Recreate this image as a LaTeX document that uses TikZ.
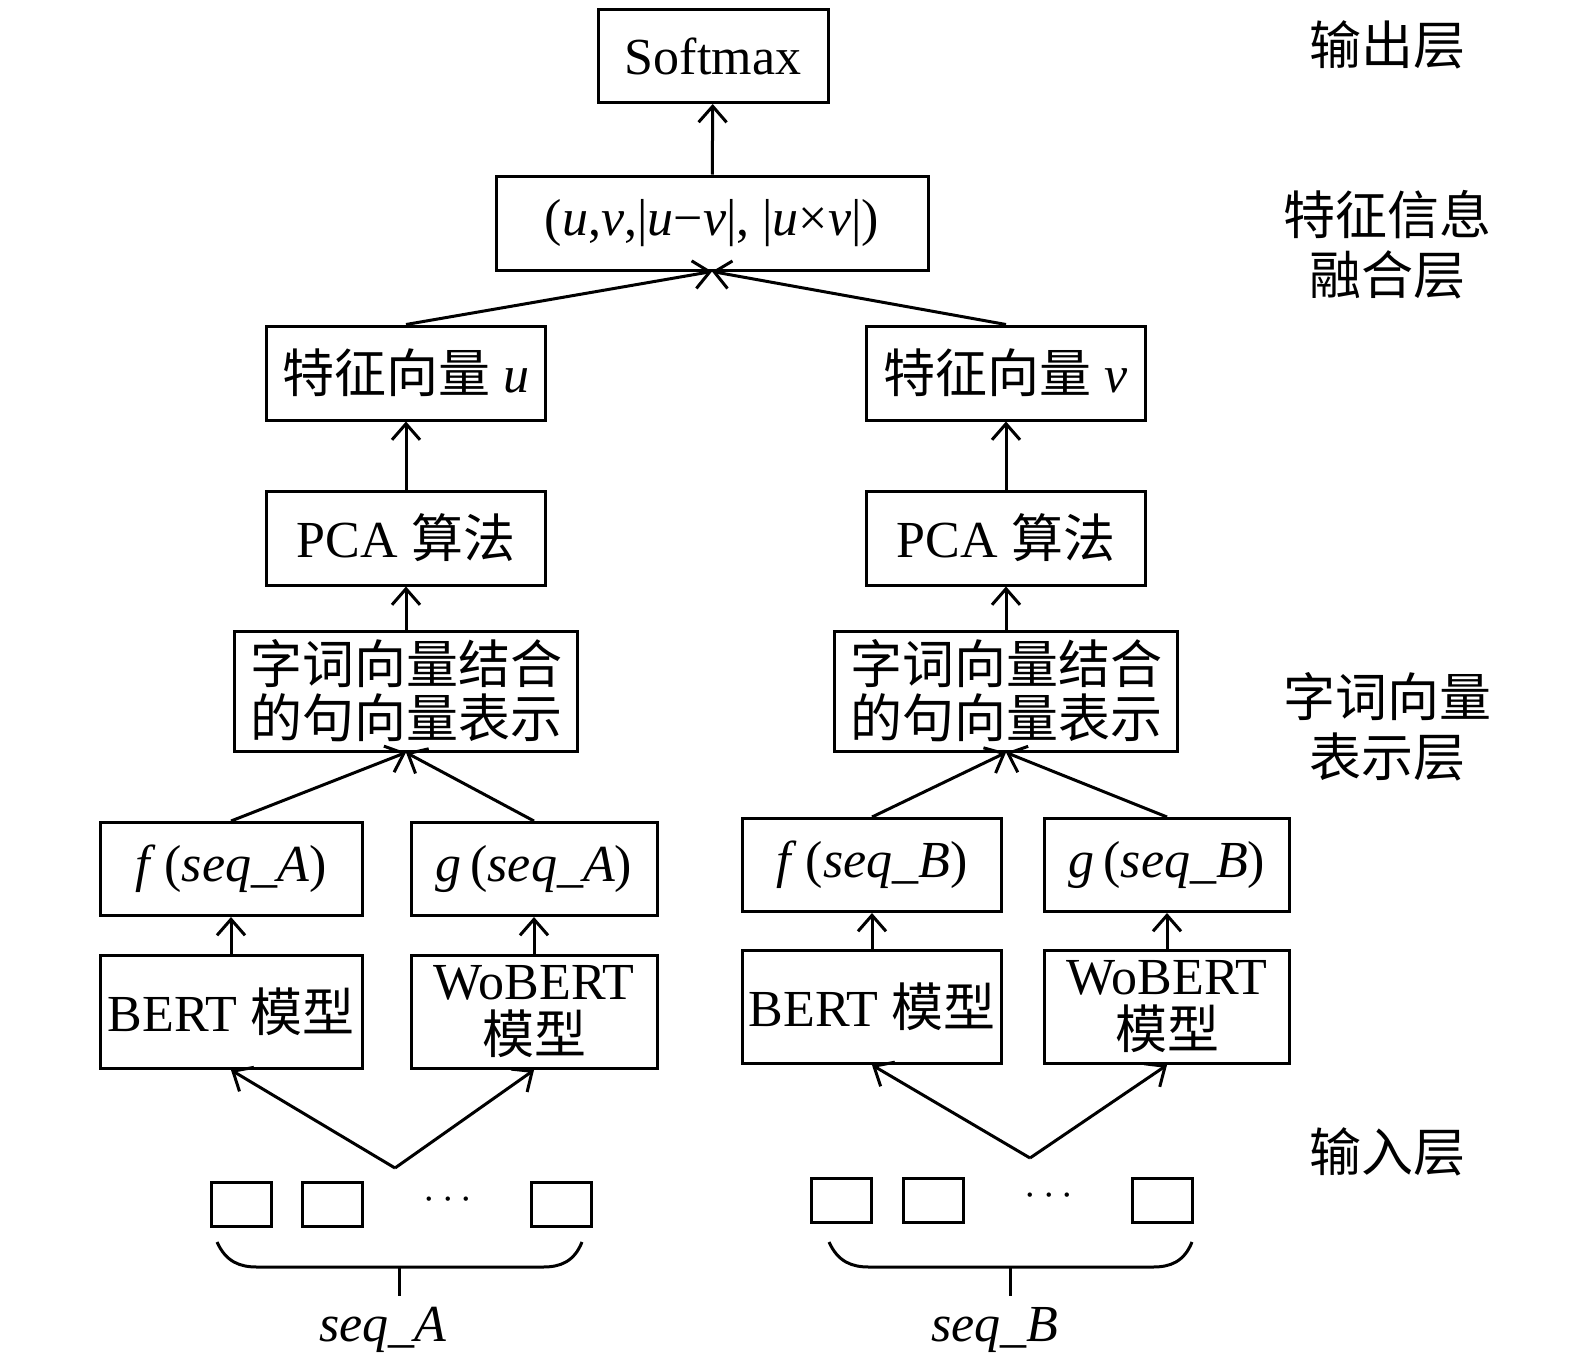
\documentclass[tikz,border=0pt]{standalone}
\usepackage{fontspec}
\setmainfont{Liberation Serif}
\newfontfamily\cjk{Noto Sans CJK SC}
\usetikzlibrary{arrows.meta}
\newcommand{\zh}[1]{{\cjk #1}}
\tikzset{
  box/.style={draw, line width=1.5pt, inner sep=0pt, align=center, font=\fontsize{26}{27}\selectfont},
  tok/.style={draw, line width=1.5pt, inner sep=0pt, minimum width=30pt, minimum height=22pt},
  layer/.style={align=center, font=\fontsize{26}{30}\selectfont},
}

\begin{document}
\begin{tikzpicture}[x=0.5pt,y=-0.5pt,line width=1.5pt,>={Straight Barb[length=8pt,width=14pt]}]
\useasboundingbox (0,0) rectangle (1575,1366);
%%%OUTPUT AND FUSION
\node[box, minimum width=115pt, minimum height=46.5pt] (softmax) at (713,56) {Softmax};
\node[box, minimum width=216pt, minimum height=47pt] (fuse) at (712,223)
  {(\textit{u},\textit{v},|\textit{u}−\textit{v}|, |\textit{u}×\textit{v}|)};
%%%SENTENCE VECTORS
\node[box, minimum width=139.5pt, minimum height=47pt] (vecu) at (406,373) {\zh{特征向量} \textit{u}};
\node[box, minimum width=139.5pt, minimum height=47pt] (vecv) at (1006,373) {\zh{特征向量} \textit{v}};
\node[box, minimum width=139.5pt, minimum height=47pt] (pcaA) at (406,538) {PCA \zh{算法}};
\node[box, minimum width=139.5pt, minimum height=47pt] (pcaB) at (1006,538) {PCA \zh{算法}};
\node[box, minimum width=171.5pt, minimum height=60pt] (combA) at (406,691) {\zh{字词向量结合}\\\zh{的句向量表示}};
\node[box, minimum width=171.5pt, minimum height=60pt] (combB) at (1006,691) {\zh{字词向量结合}\\\zh{的句向量表示}};
%%%CHAR AND WORD VECTORS
\node[box, minimum width=131pt, minimum height=46.5pt] (fA) at (231,869) {\textit{f}\,(\textit{seq\_A})};
\node[box, minimum width=123pt, minimum height=46.5pt] (gA) at (534,869) {\textit{g}\,(\textit{seq\_A})};
\node[box, minimum width=129.5pt, minimum height=46.5pt] (fB) at (872,865) {\textit{f}\,(\textit{seq\_B})};
\node[box, minimum width=122.5pt, minimum height=46.5pt] (gB) at (1167,865) {\textit{g}\,(\textit{seq\_B})};
\node[box, minimum width=131pt, minimum height=56.5pt] (bertA) at (231,1012) {BERT \zh{模型}};
\node[box, minimum width=123pt, minimum height=56.5pt] (wobertA) at (534,1012) {WoBERT\\\zh{模型}};
\node[box, minimum width=129.5pt, minimum height=56.5pt] (bertB) at (872,1007) {BERT \zh{模型}};
\node[box, minimum width=122.5pt, minimum height=56.5pt] (wobertB) at (1167,1007) {WoBERT\\\zh{模型}};
%%%INPUT TOKENS
\node[tok] (tA1) at (241,1204) {};
\node[tok] (tA2) at (332,1204) {};
\node[font=\fontsize{22}{22}\selectfont] (dotsA) at (448,1200) {$\cdots$};
\node[tok] (tA3) at (561,1204) {};
\node[tok] (tB1) at (841,1200) {};
\node[tok] (tB2) at (933,1200) {};
\node[font=\fontsize{22}{22}\selectfont] (dotsB) at (1049,1196) {$\cdots$};
\node[tok] (tB3) at (1162,1200) {};
\node[font=\fontsize{26}{26}\selectfont] (seqA) at (383,1330) {\textit{seq\_A}};
\node[font=\fontsize{26}{26}\selectfont] (seqB) at (995,1330) {\textit{seq\_B}};
\coordinate (apexA) at (395,1168);
\coordinate (apexB) at (1030,1158);
\coordinate (braceA) at (399,1267);
\coordinate (braceB) at (1010,1267);
\coordinate (stemA) at (399,1296);
\coordinate (stemB) at (1010,1296);
%%%LAYER NAMES
\node[layer] (outL) at (1387,45) {\zh{输出层}};
\node[layer] (fuseL) at (1387,245) {\zh{特征信息}\\\zh{融合层}};
\node[layer] (repL) at (1387,727) {\zh{字词向量}\\\zh{表示层}};
\node[layer] (inL) at (1387,1152) {\zh{输入层}};
%%%BRACES
\draw (217,1242) .. controls (226,1262) and (240,1267) .. (257,1267) -- (543,1267) .. controls (560,1267) and (574,1262) .. (582,1242);
\draw (829,1242) .. controls (838,1262) and (852,1267) .. (869,1267) -- (1153,1267) .. controls (1170,1267) and (1184,1262) .. (1192,1242);
\draw (braceA) -- (stemA);
\draw (braceB) -- (stemB);
%%%ARROWS
\draw[->] (apexA) -- (bertA.south);
\draw[->] (apexA) -- (wobertA.south);
\draw[->] (apexB) -- (bertB.south);
\draw[->] (apexB) -- (wobertB.south);
\draw[->] (bertA) -- (fA);
\draw[->] (wobertA) -- (gA);
\draw[->] (bertB) -- (fB);
\draw[->] (wobertB) -- (gB);
\draw[->] (fA.north) -- (combA.south);
\draw[->] (gA.north) -- (combA.south);
\draw[->] (fB.north) -- (combB.south);
\draw[->] (gB.north) -- (combB.south);
\draw[->] (combA) -- (pcaA);
\draw[->] (combB) -- (pcaB);
\draw[->] (pcaA) -- (vecu);
\draw[->] (pcaB) -- (vecv);
\draw[->] (vecu.north) -- (fuse.south);
\draw[->] (vecv.north) -- (fuse.south);
\draw[->] (fuse) -- (softmax);
\end{tikzpicture}
\end{document}
